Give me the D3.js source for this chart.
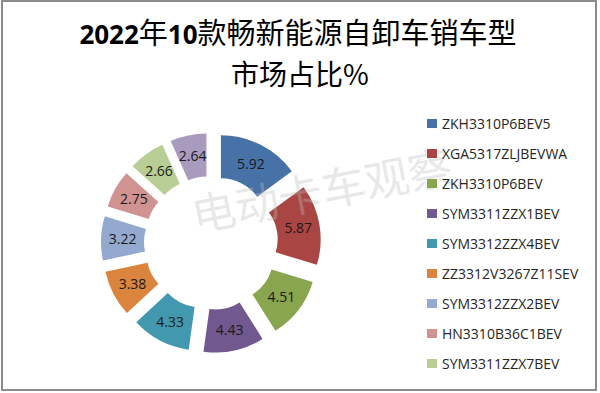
<!DOCTYPE html>
<html>
<head>
<meta charset="utf-8">
<script src="https://cdn.jsdelivr.net/npm/d3@7"></script>
<style>
  body { margin: 0; background: #fff; }
  svg { display: block; }
</style>
</head>
<body>
<svg></svg>
<script>
let width = 600, height = 393;

let svg = d3.select("svg")
    .attr("width", width)
    .attr("height", height);

// Data (the 10th model's name is cut off in the legend)
const models = ["ZKH3310P6BEV5", "XGA5317ZLJBEVWA", "ZKH3310P6BEV", "SYM3311ZZX1BEV",
    "SYM3312ZZX4BEV", "ZZ3312V3267Z11SEV", "SYM3312ZZX2BEV", "HN3310B36C1BEV",
    "SYM3311ZZX7BEV", ""];
const shares = [5.92, 5.87, 4.51, 4.43, 4.33, 3.38, 3.22, 2.75, 2.66, 2.64];
const legendNames = models.slice(0, 9);
const titleParts = [["2022", true], ["年", false], ["10", true], ["款畅新能源自卸车销车型", false]];
const subtitle = "市场占比%";
const watermark = "电动卡车观察";

const colors = ["#4672a8", "#a94543", "#89a54e", "#71588f", "#4198af",
    "#db843d", "#93a9cf", "#d19392", "#b9cd96", "#a99bbd"];

// outer frame
svg.append("rect")
    .attr("x", 2).attr("y", 1)
    .attr("width", 594).attr("height", 389)
    .attr("fill", "white")
    .attr("stroke", "#8c8c8c")
    .attr("stroke-width", 2);

// Title
let title = svg.append("text")
    .attr("x", 298)
    .attr("y", 44)
    .attr("text-anchor", "middle")
    .attr("fill", "#000");
title.selectAll("tspan")
    .data(titleParts)
    .enter()
    .append("tspan")
    .attr("font-family", d => d[1] ? "'Open Sans', 'Liberation Sans', sans-serif" : "'Noto Sans CJK SC', sans-serif")
    .attr("font-weight", d => d[1] ? "bold" : "normal")
    .attr("font-size", d => d[1] ? "26px" : "29px")
    .text(d => d[0]);

svg.append("text")
    .attr("x", 300)
    .attr("y", 85)
    .attr("text-anchor", "middle")
    .attr("font-family", "'Noto Sans CJK SC', sans-serif")
    .attr("font-size", "28px")
    .attr("fill", "#000")
    .text(subtitle);

// Doughnut
const cx = 211, cy = 243;
const outerR = 88, innerR = 45, explode = 22;

let pie = d3.pie().sort(null).value(d => d);
let arcs = pie(shares);
let arc = d3.arc().innerRadius(innerR).outerRadius(outerR);

let g = svg.append("g")
    .attr("transform", `translate(${cx}, ${cy})`);

let slices = g.selectAll("g.slice")
    .data(arcs)
    .enter()
    .append("g")
    .attr("class", "slice")
    .attr("transform", d => {
        let mid = (d.startAngle + d.endAngle) / 2;
        return `translate(${explode * Math.sin(mid)}, ${-explode * Math.cos(mid)})`;
    });

slices.append("path")
    .attr("d", arc)
    .attr("fill", (d, i) => colors[i]);

slices.append("text")
    .attr("transform", d => `translate(${arc.centroid(d)})`)
    .attr("text-anchor", "middle")
    .attr("dy", "0.36em")
    .attr("font-family", "'Open Sans', sans-serif")
    .attr("font-size", "14px")
    .attr("fill", "#1a1a1a")
    .text(d => d.data.toFixed(2));

// Watermark
svg.append("text")
    .attr("transform", "translate(322, 192) rotate(-11)")
    .attr("text-anchor", "middle")
    .attr("dy", "0.35em")
    .attr("font-family", "'Noto Sans CJK SC', sans-serif")
    .attr("font-size", "44px")
    .attr("fill", "rgba(190,190,190,0.35)")
    .text(watermark);

// Legend
let legend = svg.append("g")
    .attr("transform", "translate(427, 119)");

let items = legend.selectAll("g")
    .data(legendNames)
    .enter()
    .append("g")
    .attr("transform", (d, i) => `translate(0, ${i * 30})`);

items.append("rect")
    .attr("width", 10)
    .attr("height", 9)
    .attr("fill", (d, i) => colors[i]);

items.append("text")
    .attr("x", 15)
    .attr("y", 9.5)
    .attr("font-family", "'Open Sans', sans-serif")
    .attr("font-size", "14px")
    .attr("fill", "#262626")
    .text(d => d);
</script>
</body>
</html>
